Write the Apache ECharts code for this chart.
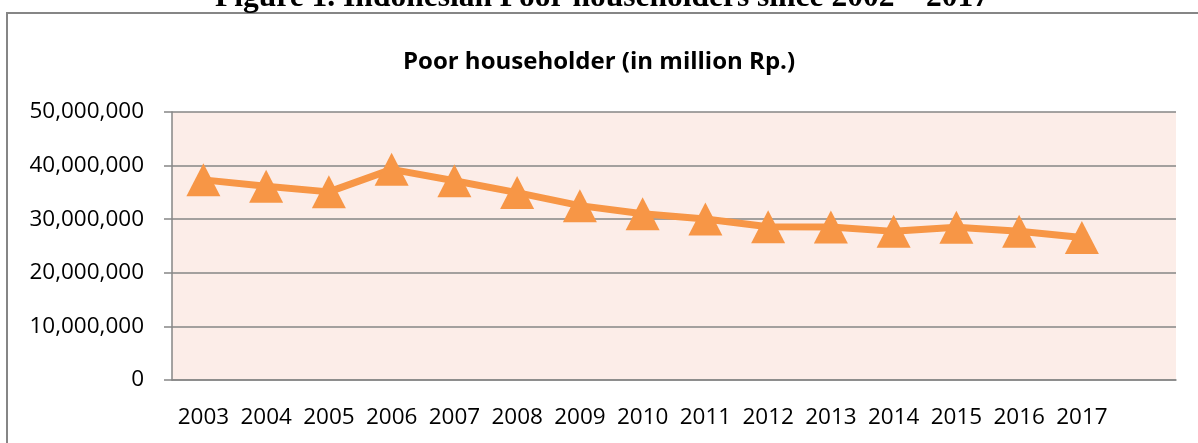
<!DOCTYPE html>
<html>
<head>
<meta charset="utf-8">
<script src="https://cdn.jsdelivr.net/npm/echarts@6/dist/echarts.min.js"></script>
<style>
  html, body { margin: 0; padding: 0; background: #fff; }
  #main { width: 1198px; height: 443px; }
</style>
</head>
<body>
<div id="main"></div>
<script>
// 年份（最后一格为空）
const years = ['2003', '2004', '2005', '2006', '2007', '2008', '2009', '2010',
    '2011', '2012', '2013', '2014', '2015', '2016', '2017', ''];

// 贫困人口
const poorHouseholds = [37340000, 36150000, 35100000, 39300000, 37170000, 34960000,
    32530000, 31020000, 30020000, 28590000, 28550000, 27730000, 28510000, 27760000, 26580000];

// y 轴刻度
const yMin = 0;
const yMax = 50000000;
const yStep = 10000000;

const figureTitle = 'Figure 1. Indonesian Poor householders since 2002 – 2017';
const chartTitle = 'Poor householder (in million Rp.)';

const gray = '#868686';
const orange = '#f79646';

const myChart = echarts.init(document.getElementById('main'));

const option = {
    backgroundColor: '#fff',
    animation: false,
    title: {
        text: chartTitle,
        left: 'center',
        top: 45,
        textStyle: {
            fontFamily: 'Open Sans',
            fontWeight: 'bold',
            fontSize: 24,
            color: '#000'
        }
    },
    graphic: [
        {
            type: 'rect',
            shape: { x: 7, y: 13, width: 1400, height: 600 },
            style: { fill: 'none', stroke: gray, lineWidth: 2 },
            silent: true
        },
        {
            type: 'text',
            x: 602,
            y: 14,
            style: {
                text: figureTitle,
                fontFamily: 'Liberation Serif',
                fontWeight: 'bold',
                fontSize: 31.5,
                fill: '#000',
                align: 'center',
                verticalAlign: 'bottom'
            },
            silent: true
        }
    ],
    grid: {
        left: 172,
        top: 112,
        right: 22,
        bottom: 63,
        show: true,
        backgroundColor: '#fcede8',
        borderWidth: 0
    },
    xAxis: {
        type: 'category',
        data: years,
        boundaryGap: true,
        axisLine: { lineStyle: { color: gray, width: 1.5 } },
        axisTick: {
            interval: 0,
            length: 8,
            lineStyle: { color: gray, width: 1.5 }
        },
        axisLabel: {
            interval: 0,
            margin: 26,
            fontFamily: 'Open Sans',
            fontSize: 22.5,
            color: '#000'
        },
        splitLine: { show: false }
    },
    yAxis: {
        type: 'value',
        min: yMin,
        max: yMax,
        interval: yStep,
        axisLine: { show: true, lineStyle: { color: gray, width: 1.5 } },
        axisTick: { show: true, length: 8, lineStyle: { color: gray, width: 1.5 } },
        axisLabel: {
            margin: 28,
            fontFamily: 'Open Sans',
            fontSize: 22.5,
            color: '#000',
            padding: [8, 0, 0, 0],
            formatter: v => v.toLocaleString('en-US')
        },
        splitLine: { show: true, lineStyle: { color: gray, width: 1.5 } }
    },
    series: [
        {
            type: 'line',
            data: poorHouseholds,
            symbol: 'triangle',
            symbolSize: [34, 33],
            showSymbol: true,
            lineStyle: { color: orange, width: 7 },
            itemStyle: { color: orange, opacity: 1 },
            z: 3
        }
    ]
};

myChart.setOption(option);
</script>
</body>
</html>
